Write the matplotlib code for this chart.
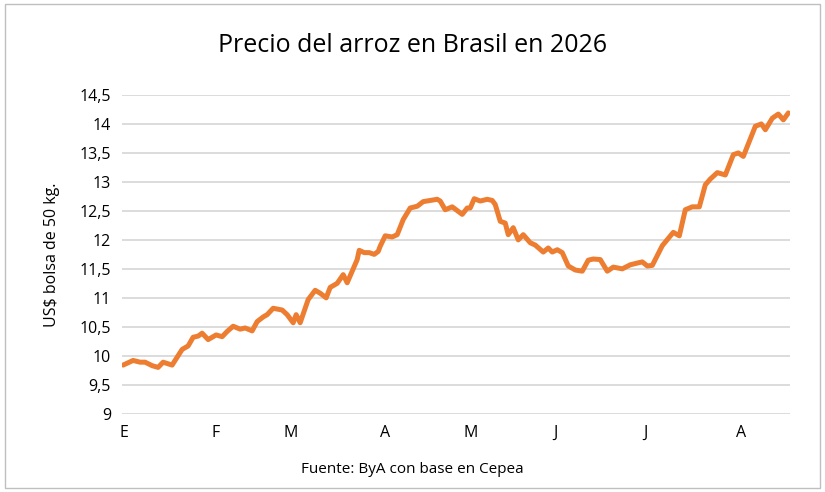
import matplotlib
matplotlib.use("Agg")
import matplotlib.pyplot as plt
from matplotlib.patches import Rectangle

plt.rcParams['font.family'] = ['Open Sans', 'DejaVu Sans']

# dia relativo al inicio de la serie, precio en US$ por bolsa de 50 kg
dias = [1, 11, 18, 23, 30, 36, 41, 50, 60, 66, 71, 76, 80, 86, 94, 100, 105, 111,
        118, 123, 130, 135, 141, 145, 151, 160, 165, 171, 174, 178, 186, 193, 198,
        204, 208, 215, 221, 225, 235, 237, 242, 247, 252, 256, 258, 263, 270, 275,
        281, 288, 295, 301, 308, 315, 318, 323, 330, 340, 345, 348, 352, 358, 365,
        370, 373, 378, 383, 386, 391, 396, 401, 408, 413, 421, 426, 430, 435, 440,
        446, 453, 460, 466, 471, 478, 485, 491, 500, 508, 515, 520, 525, 530,
        540, 551, 557, 563, 570, 577, 583, 588, 595, 603, 611, 616, 621, 633, 639,
        643, 650, 656, 661, 666]
precio = [9.84, 9.92, 9.89, 9.89, 9.83, 9.80, 9.89, 9.84, 10.11, 10.17, 10.32,
          10.34, 10.39, 10.28, 10.36, 10.33, 10.42, 10.51, 10.46, 10.48, 10.43,
          10.59, 10.67, 10.71, 10.82, 10.79, 10.71, 10.57, 10.71, 10.57, 10.97,
          11.13, 11.08, 11.00, 11.18, 11.25, 11.40, 11.26, 11.66, 11.82, 11.78,
          11.78, 11.75, 11.80, 11.89, 12.07, 12.05, 12.09, 12.35, 12.55, 12.58,
          12.66, 12.68, 12.70, 12.67, 12.52, 12.57, 12.44, 12.55, 12.55, 12.71,
          12.67, 12.70, 12.68, 12.61, 12.32, 12.29, 12.09, 12.21, 12.00, 12.09,
          11.95, 11.91, 11.79, 11.86, 11.79, 11.83, 11.78, 11.55, 11.48, 11.46,
          11.65, 11.67, 11.66, 11.46, 11.53, 11.50, 11.57, 11.60, 11.62, 11.55,
          11.56, 11.90, 12.13, 12.07, 12.52, 12.57, 12.57, 12.95, 13.05, 13.16,
          13.12, 13.47, 13.50, 13.44, 13.96, 14.00, 13.90, 14.10, 14.17, 14.07,
          14.19]
meses = ["E", "F", "M", "A", "M", "J", "J", "A"]
dias_meses = [2, 93, 169, 263, 348, 433, 523, 619]
yticks = [9 + 0.5 * i for i in range(12)]

fig = plt.figure(figsize=(8.25, 4.92), dpi=100)
ax = fig.add_axes([0.148, 0.159, 0.81, 0.648])

for y in yticks:
    ax.axhline(y, color="#d9d9d9", lw=1.3, zorder=1)
ax.plot(dias, precio, color="#ed7d31", lw=3.6, solid_capstyle="round",
        solid_joinstyle="round", zorder=3)

ax.set_xlim(0, 668)
ax.set_ylim(9, 14.5)
ax.set_yticks(yticks)
ax.set_yticklabels([f"{v:g}".replace(".", ",") for v in yticks])
ax.set_xticks(dias_meses)
ax.set_xticklabels(meses)
ax.tick_params(length=0, labelsize=11.5, colors="black", pad=8)
for s in ax.spines.values():
    s.set_visible(False)
ax.set_ylabel("US$ bolsa de 50 kg.", fontsize=11.5, labelpad=14)

fig.text(0.5, 0.908, "Precio del arroz en Brasil en 2026", ha="center",
         va="center", fontsize=18)
fig.text(0.5, 0.045, "Fuente: ByA con base en Cepea", ha="center",
         va="center", fontsize=11)
fig.patches.append(Rectangle((0.006, 0.008), 0.988, 0.984, transform=fig.transFigure,
                             fill=False, edgecolor="#bfbfbf", lw=1))

fig.savefig("out.png", dpi=100)
